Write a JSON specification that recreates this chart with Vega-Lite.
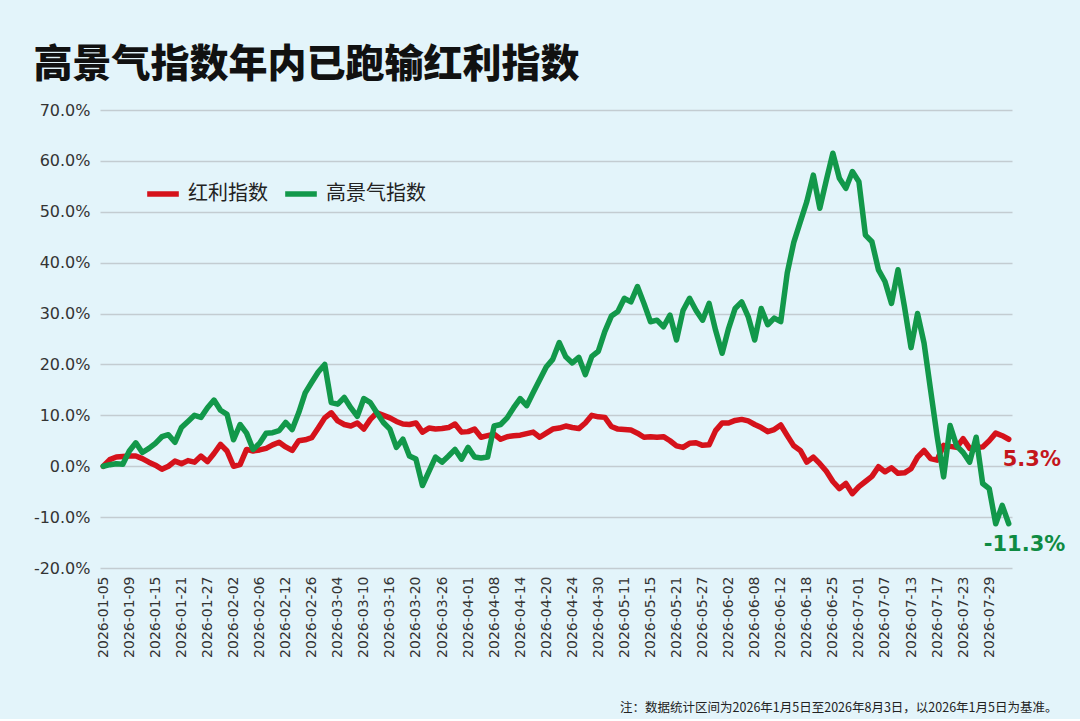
{
  "$schema": "https://vega.github.io/schema/vega-lite/v6.json",
  "width": 912,
  "height": 458,
  "padding": {"left": 33, "top": 46, "right": 37, "bottom": 5},
  "background": "#e3f4fa",
  "title": {
    "text": "高景气指数年内已跑输红利指数",
    "anchor": "start",
    "frame": "bounds",
    "font": "Noto Sans CJK SC",
    "fontSize": 39,
    "fontWeight": 900,
    "color": "#111111",
    "offset": 17
  },
  "config": {
    "view": {"stroke": null},
    "font": "DejaVu Sans"
  },
  "data": {
    "values": [
      {"d":"2026-01-05","红利指数":0,"高景气指数":0},
      {"d":"2026-01-06","红利指数":1.3,"高景气指数":0.3},
      {"d":"2026-01-07","红利指数":1.8,"高景气指数":0.5},
      {"d":"2026-01-08","红利指数":1.9,"高景气指数":0.4},
      {"d":"2026-01-09","红利指数":2,"高景气指数":3},
      {"d":"2026-01-12","红利指数":2,"高景气指数":4.6},
      {"d":"2026-01-13","红利指数":1.5,"高景气指数":2.7},
      {"d":"2026-01-14","红利指数":0.8,"高景气指数":3.5},
      {"d":"2026-01-15","红利指数":0.2,"高景气指数":4.5},
      {"d":"2026-01-16","红利指数":-0.6,"高景气指数":5.8},
      {"d":"2026-01-19","红利指数":0,"高景气指数":6.2},
      {"d":"2026-01-20","红利指数":1,"高景气指数":4.7},
      {"d":"2026-01-21","红利指数":0.5,"高景气指数":7.6},
      {"d":"2026-01-22","红利指数":1.1,"高景气指数":8.8},
      {"d":"2026-01-23","红利指数":0.8,"高景气指数":10},
      {"d":"2026-01-26","红利指数":2,"高景气指数":9.6},
      {"d":"2026-01-27","红利指数":0.9,"高景气指数":11.5},
      {"d":"2026-01-28","红利指数":2.5,"高景气指数":13},
      {"d":"2026-01-29","红利指数":4.3,"高景气指数":11},
      {"d":"2026-01-30","红利指数":3,"高景气指数":10.2},
      {"d":"2026-02-02","红利指数":0,"高景气指数":5.2},
      {"d":"2026-02-03","红利指数":0.3,"高景气指数":8.2},
      {"d":"2026-02-04","红利指数":3.3,"高景气指数":6.5},
      {"d":"2026-02-05","红利指数":3,"高景气指数":3.3},
      {"d":"2026-02-06","红利指数":3.2,"高景气指数":4.5},
      {"d":"2026-02-09","红利指数":3.5,"高景气指数":6.5},
      {"d":"2026-02-10","红利指数":4.2,"高景气指数":6.6},
      {"d":"2026-02-11","红利指数":4.7,"高景气指数":7},
      {"d":"2026-02-12","红利指数":3.8,"高景气指数":8.6},
      {"d":"2026-02-13","红利指数":3.1,"高景气指数":7.2},
      {"d":"2026-02-24","红利指数":5,"高景气指数":10.5},
      {"d":"2026-02-25","红利指数":5.2,"高景气指数":14.4},
      {"d":"2026-02-26","红利指数":5.6,"高景气指数":16.5},
      {"d":"2026-02-27","红利指数":7.5,"高景气指数":18.5},
      {"d":"2026-03-02","红利指数":9.5,"高景气指数":20},
      {"d":"2026-03-03","红利指数":10.5,"高景气指数":12.5},
      {"d":"2026-03-04","红利指数":8.9,"高景气指数":12.2},
      {"d":"2026-03-05","红利指数":8.2,"高景气指数":13.5},
      {"d":"2026-03-06","红利指数":7.9,"高景气指数":11.5},
      {"d":"2026-03-09","红利指数":8.5,"高景气指数":9.8},
      {"d":"2026-03-10","红利指数":7.3,"高景气指数":13.3},
      {"d":"2026-03-11","红利指数":9.2,"高景气指数":12.5},
      {"d":"2026-03-12","红利指数":10.5,"高景气指数":10.5},
      {"d":"2026-03-13","红利指数":10,"高景气指数":8.6},
      {"d":"2026-03-16","红利指数":9.5,"高景气指数":7.3},
      {"d":"2026-03-17","红利指数":8.8,"高景气指数":3.7},
      {"d":"2026-03-18","红利指数":8.3,"高景气指数":5.3},
      {"d":"2026-03-19","红利指数":8.2,"高景气指数":2},
      {"d":"2026-03-20","红利指数":8.5,"高景气指数":1.4},
      {"d":"2026-03-23","红利指数":6.7,"高景气指数":-3.8},
      {"d":"2026-03-24","红利指数":7.5,"高景气指数":-1},
      {"d":"2026-03-25","红利指数":7.3,"高景气指数":1.8},
      {"d":"2026-03-26","红利指数":7.4,"高景气指数":0.8},
      {"d":"2026-03-27","红利指数":7.6,"高景气指数":2},
      {"d":"2026-03-30","红利指数":8.3,"高景气指数":3.3},
      {"d":"2026-03-31","红利指数":6.7,"高景气指数":1.4},
      {"d":"2026-04-01","红利指数":6.8,"高景气指数":3.7},
      {"d":"2026-04-02","红利指数":7.3,"高景气指数":1.8},
      {"d":"2026-04-03","红利指数":5.7,"高景气指数":1.6},
      {"d":"2026-04-07","红利指数":6,"高景气指数":1.8},
      {"d":"2026-04-08","红利指数":6.3,"高景气指数":7.9},
      {"d":"2026-04-09","红利指数":5.3,"高景气指数":8.2},
      {"d":"2026-04-10","红利指数":5.8,"高景气指数":9.5},
      {"d":"2026-04-13","红利指数":6,"高景气指数":11.5},
      {"d":"2026-04-14","红利指数":6.1,"高景气指数":13.3},
      {"d":"2026-04-15","红利指数":6.4,"高景气指数":11.9},
      {"d":"2026-04-16","红利指数":6.7,"高景气指数":14.5},
      {"d":"2026-04-17","红利指数":5.7,"高景气指数":17},
      {"d":"2026-04-20","红利指数":6.5,"高景气指数":19.5},
      {"d":"2026-04-21","红利指数":7.3,"高景气指数":21},
      {"d":"2026-04-22","红利指数":7.5,"高景气指数":24.3},
      {"d":"2026-04-23","红利指数":7.9,"高景气指数":21.5},
      {"d":"2026-04-24","红利指数":7.6,"高景气指数":20.3},
      {"d":"2026-04-27","红利指数":7.4,"高景气指数":21.4},
      {"d":"2026-04-28","红利指数":8.5,"高景气指数":18},
      {"d":"2026-04-29","红利指数":10,"高景气指数":21.6},
      {"d":"2026-04-30","红利指数":9.7,"高景气指数":22.6},
      {"d":"2026-05-06","红利指数":9.6,"高景气指数":26.5},
      {"d":"2026-05-07","红利指数":7.8,"高景气指数":29.5},
      {"d":"2026-05-08","红利指数":7.3,"高景气指数":30.4},
      {"d":"2026-05-11","红利指数":7.2,"高景气指数":33},
      {"d":"2026-05-12","红利指数":7.1,"高景气指数":32.3},
      {"d":"2026-05-13","红利指数":6.5,"高景气指数":35.3},
      {"d":"2026-05-14","红利指数":5.7,"高景气指数":32},
      {"d":"2026-05-15","红利指数":5.8,"高景气指数":28.4},
      {"d":"2026-05-18","红利指数":5.7,"高景气指数":28.7},
      {"d":"2026-05-19","红利指数":5.8,"高景气指数":27.4},
      {"d":"2026-05-20","红利指数":5,"高景气指数":29.7},
      {"d":"2026-05-21","红利指数":4,"高景气指数":24.8},
      {"d":"2026-05-22","红利指数":3.7,"高景气指数":30.6},
      {"d":"2026-05-25","红利指数":4.5,"高景气指数":33},
      {"d":"2026-05-26","红利指数":4.6,"高景气指数":30.6},
      {"d":"2026-05-27","红利指数":4.1,"高景气指数":28.7},
      {"d":"2026-05-28","红利指数":4.2,"高景气指数":32},
      {"d":"2026-05-29","红利指数":7,"高景气指数":26.7},
      {"d":"2026-06-01","红利指数":8.5,"高景气指数":22.2},
      {"d":"2026-06-02","红利指数":8.5,"高景气指数":27.1},
      {"d":"2026-06-03","红利指数":9,"高景气指数":31},
      {"d":"2026-06-04","红利指数":9.2,"高景气指数":32.3},
      {"d":"2026-06-05","红利指数":8.9,"高景气指数":29.4},
      {"d":"2026-06-08","红利指数":8.2,"高景气指数":24.8},
      {"d":"2026-06-09","红利指数":7.6,"高景气指数":31},
      {"d":"2026-06-10","红利指数":6.8,"高景气指数":27.8},
      {"d":"2026-06-11","红利指数":7.2,"高景气指数":29.1},
      {"d":"2026-06-12","红利指数":8.1,"高景气指数":28.4},
      {"d":"2026-06-15","红利指数":6,"高景气指数":38},
      {"d":"2026-06-16","红利指数":4,"高景气指数":44},
      {"d":"2026-06-17","红利指数":3.1,"高景气指数":48},
      {"d":"2026-06-18","红利指数":0.8,"高景气指数":52},
      {"d":"2026-06-22","红利指数":1.8,"高景气指数":57.2},
      {"d":"2026-06-23","红利指数":0.5,"高景气指数":50.7},
      {"d":"2026-06-24","红利指数":-1,"高景气指数":56.2},
      {"d":"2026-06-25","红利指数":-3,"高景气指数":61.5},
      {"d":"2026-06-26","红利指数":-4.4,"高景气指数":56.6},
      {"d":"2026-06-29","红利指数":-3.4,"高景气指数":54.6},
      {"d":"2026-06-30","红利指数":-5.4,"高景气指数":57.9},
      {"d":"2026-07-01","红利指数":-4,"高景气指数":55.9},
      {"d":"2026-07-02","红利指数":-3,"高景气指数":45.4},
      {"d":"2026-07-03","红利指数":-2,"高景气指数":44.1},
      {"d":"2026-07-06","红利指数":-0.1,"高景气指数":38.6},
      {"d":"2026-07-07","红利指数":-1.1,"高景气指数":36.3},
      {"d":"2026-07-08","红利指数":-0.3,"高景气指数":32},
      {"d":"2026-07-09","红利指数":-1.4,"高景气指数":38.6},
      {"d":"2026-07-10","红利指数":-1.3,"高景气指数":31.3},
      {"d":"2026-07-13","红利指数":-0.5,"高景气指数":23.3},
      {"d":"2026-07-14","红利指数":1.8,"高景气指数":30},
      {"d":"2026-07-15","红利指数":3.1,"高景气指数":24.2},
      {"d":"2026-07-16","红利指数":1.5,"高景气指数":15},
      {"d":"2026-07-17","红利指数":1.2,"高景气指数":5.9},
      {"d":"2026-07-20","红利指数":4.1,"高景气指数":-2.1},
      {"d":"2026-07-21","红利指数":3.9,"高景气指数":8},
      {"d":"2026-07-22","红利指数":3.7,"高景气指数":4},
      {"d":"2026-07-23","红利指数":5.4,"高景气指数":2.7},
      {"d":"2026-07-24","红利指数":3.5,"高景气指数":0.8},
      {"d":"2026-07-27","红利指数":3.6,"高景气指数":5.7},
      {"d":"2026-07-28","红利指数":3.8,"高景气指数":-3.4},
      {"d":"2026-07-29","红利指数":5,"高景气指数":-4.4},
      {"d":"2026-07-30","红利指数":6.5,"高景气指数":-11.3},
      {"d":"2026-07-31","红利指数":6,"高景气指数":-7.7},
      {"d":"2026-08-03","红利指数":5.3,"高景气指数":-11.3}
    ]
  },
  "transform": [
    {"fold": ["红利指数", "高景气指数"], "as": ["s", "v"]}
  ],
  "encoding": {
    "x": {
      "field": "d",
      "type": "ordinal",
      "sort": null,
      "scale": {"type": "point", "padding": 0.5},
      "axis": {
        "values": ["2026-01-05","2026-01-09","2026-01-15","2026-01-21","2026-01-27","2026-02-02","2026-02-06","2026-02-12","2026-02-26","2026-03-04","2026-03-10","2026-03-16","2026-03-20","2026-03-26","2026-04-01","2026-04-08","2026-04-14","2026-04-20","2026-04-24","2026-04-30","2026-05-11","2026-05-15","2026-05-21","2026-05-27","2026-06-02","2026-06-08","2026-06-12","2026-06-18","2026-06-25","2026-07-01","2026-07-07","2026-07-13","2026-07-17","2026-07-23","2026-07-29"],
        "labelAngle": -90,
        "labelFont": "DejaVu Sans",
        "labelFontSize": 14,
        "labelColor": "#333333",
        "labelPadding": 8,
        "domain": false,
        "ticks": false,
        "grid": false,
        "title": "注：数据统计区间为2026年1月5日至2026年8月3日，以2026年1月5日为基准。",
        "titleFont": "Noto Sans CJK SC",
        "titleFontSize": 12.5,
        "titleFontWeight": "normal",
        "titleColor": "#222222",
        "titleAnchor": "end",
        "titleAlign": "right",
        "titleX": 957,
        "titlePadding": 44
      }
    },
    "y": {
      "field": "v",
      "type": "quantitative",
      "scale": {"domain": [-20, 70], "nice": false, "zero": false},
      "axis": {
        "values": [-20, -10, 0, 10, 20, 30, 40, 50, 60, 70],
        "labelExpr": "(datum.value < 0 ? '-' : '') + format(abs(datum.value), '.1f') + '%'",
        "labelFont": "DejaVu Sans",
        "labelFontSize": 16,
        "labelColor": "#333333",
        "labelPadding": 10,
        "domain": false,
        "ticks": false,
        "gridColor": "#c3ccd1",
        "gridWidth": 1.3,
        "title": null
      }
    }
  },
  "layer": [
    {
      "mark": {"type": "line", "strokeWidth": 5.5, "strokeJoin": "round", "strokeCap": "round"},
      "encoding": {
        "color": {
          "field": "s",
          "type": "nominal",
          "scale": {"domain": ["红利指数", "高景气指数"], "range": ["#d5121b", "#12984a"]},
          "legend": {
            "title": null,
            "orient": "none",
            "direction": "horizontal",
            "legendX": 44,
            "legendY": 65,
            "symbolType": "stroke",
            "symbolStrokeWidth": 5.5,
            "symbolSize": 1000,
            "labelFont": "Noto Sans CJK SC",
            "labelFontSize": 20,
            "labelColor": "#222222",
            "labelOffset": 6,
            "columnPadding": 6
          }
        }
      }
    },
    {
      "transform": [
        {"filter": "datum.d === '2026-08-03' && datum.s === '红利指数'"},
        {"calculate": "(datum.v < 0 ? '-' : '') + format(abs(datum.v), '.1f') + '%'", "as": "lbl"}
      ],
      "mark": {"type": "text", "align": "left", "baseline": "middle", "dx": -6, "dy": 21, "font": "DejaVu Sans", "fontSize": 21, "fontWeight": "bold", "color": "#c4161c"},
      "encoding": {"text": {"field": "lbl"}}
    },
    {
      "transform": [
        {"filter": "datum.d === '2026-08-03' && datum.s === '高景气指数'"},
        {"calculate": "(datum.v < 0 ? '-' : '') + format(abs(datum.v), '.1f') + '%'", "as": "lbl"}
      ],
      "mark": {"type": "text", "align": "left", "baseline": "middle", "dx": -25, "dy": 21, "font": "DejaVu Sans", "fontSize": 21, "fontWeight": "bold", "color": "#0e8b42"},
      "encoding": {"text": {"field": "lbl"}}
    }
  ]
}
